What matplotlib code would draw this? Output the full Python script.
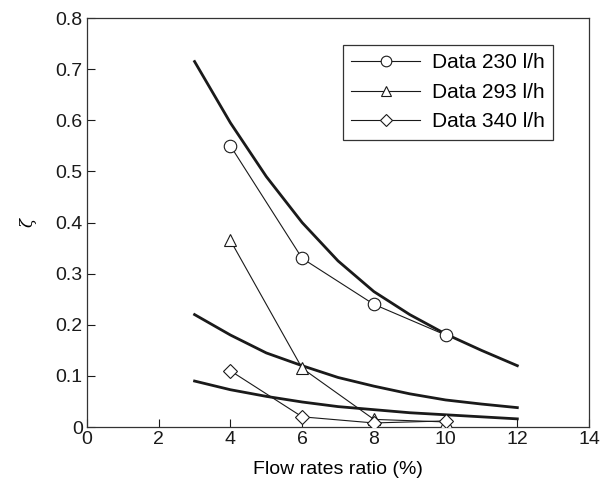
import numpy as np
import matplotlib
matplotlib.use('Agg')
import matplotlib.pyplot as plt

plt.rcParams['font.family'] = ['Liberation Sans', 'DejaVu Sans']

# measured data
x_data = [4, 6, 8, 10]
data_230 = [0.55, 0.33, 0.24, 0.18]
data_293 = [0.365, 0.115, 0.015, 0.01]
data_340 = [0.11, 0.02, 0.008, 0.012]

# model curves
x_model = [3, 4, 5, 6, 7, 8, 9, 10, 11, 12]
model_230 = [0.715, 0.595, 0.49, 0.40, 0.325, 0.265, 0.22, 0.182, 0.15, 0.12]
model_293 = [0.22, 0.18, 0.145, 0.12, 0.097, 0.08, 0.065, 0.053, 0.045, 0.038]
model_340 = [0.09, 0.073, 0.06, 0.049, 0.04, 0.034, 0.028, 0.024, 0.02, 0.016]

labels = ['Data 230 l/h', 'Data 293 l/h', 'Data 340 l/h']

fig = plt.figure(figsize=(6.02, 4.82), dpi=100)
ax = fig.add_axes([0.1445, 0.114, 0.834, 0.8485])

for m in [model_230, model_293, model_340] :
    ax.plot(x_model, m, '-', color='#1a1a1a', linewidth=2.0, zorder=2)

ax.plot(x_data, data_230, '-o', color='#1a1a1a', linewidth=0.8, markersize=9,
        markerfacecolor='white', markeredgewidth=0.8, label=labels[0], zorder=3)
ax.plot(x_data, data_293, '-^', color='#1a1a1a', linewidth=0.8, markersize=8,
        markerfacecolor='white', markeredgewidth=0.8, label=labels[1], zorder=3)
ax.plot(x_data, data_340, '-D', color='#1a1a1a', linewidth=0.8, markersize=7,
        markerfacecolor='white', markeredgewidth=0.8, label=labels[2], zorder=3)

ax.set_xlim(0, 14)
ax.set_ylim(0, 0.8)
ax.set_xticks(range(0, 15, 2))
ax.set_yticks(np.arange(0, 0.81, 0.1))
ax.set_yticklabels(['0', '0.1', '0.2', '0.3', '0.4', '0.5', '0.6', '0.7', '0.8'])
ax.tick_params(direction='in', length=6, width=0.8, labelsize=14, colors='#1a1a1a',
               top=False, right=False, pad=3)
for s in ax.spines.values() :
    s.set_color('#333333')
    s.set_linewidth(0.9)

ax.set_xlabel('Flow rates ratio (%)', fontsize=14, labelpad=9)
ax.set_ylabel('ζ', fontsize=12, family=['DejaVu Serif'], style='italic', rotation=90, labelpad=14)

leg = ax.legend(loc='upper right', bbox_to_anchor=(0.928, 0.934), borderaxespad=0,
                fontsize=15, handlelength=3.3, labelspacing=0.5, fancybox=False,
                framealpha=1, borderpad=0.4, handletextpad=0.55, markerscale=0.85)
leg.get_frame().set_edgecolor('#333333')
leg.get_frame().set_linewidth(0.9)

plt.savefig('out.png', dpi=100)
plt.close(fig)
